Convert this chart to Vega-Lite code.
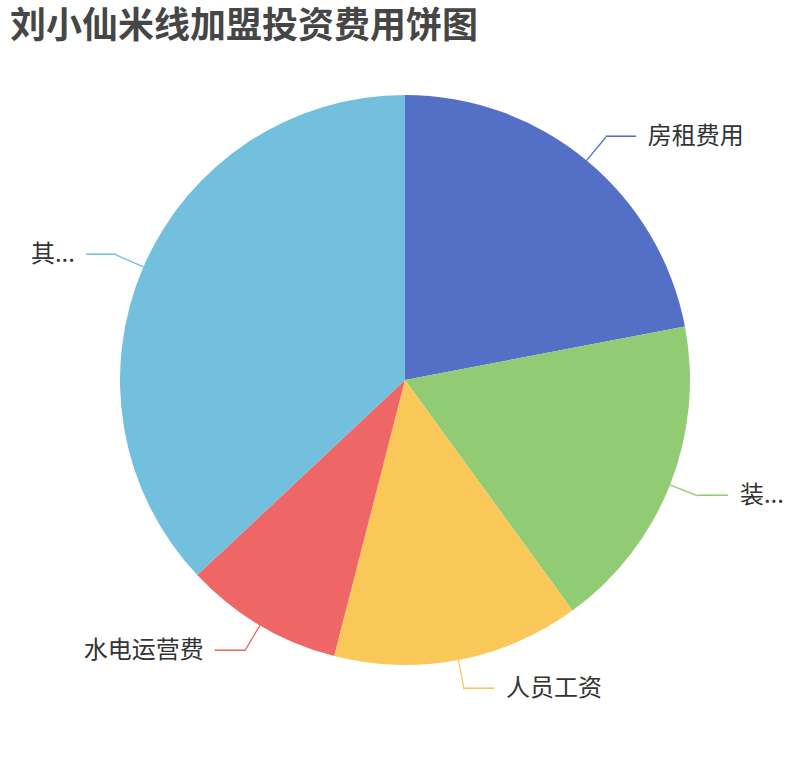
{
  "$schema": "https://vega.github.io/schema/vega-lite/v6.json",
  "width": 810,
  "height": 760,
  "padding": 0,
  "autosize": {"type": "none"},
  "background": "white",
  "title": {
    "text": "刘小仙米线加盟投资费用饼图",
    "anchor": "start",
    "frame": "group",
    "offset": -46,
    "dx": 10,
    "fontSize": 36,
    "font": "Noto Sans CJK SC",
    "fontWeight": "bold",
    "color": "#464646",
    "baseline": "top"
  },
  "data": {
    "values": [
      {"seq": 1, "name": "房租费用", "value": 22},
      {"seq": 2, "name": "装...", "value": 18},
      {"seq": 3, "name": "人员工资", "value": 14},
      {"seq": 4, "name": "水电运营费", "value": 9},
      {"seq": 5, "name": "其...", "value": 37}
    ]
  },
  "encoding": {
    "theta": {"field": "value", "type": "quantitative", "stack": true},
    "order": {"field": "seq", "type": "quantitative"},
    "color": {
      "field": "name",
      "type": "nominal",
      "sort": null,
      "legend": null,
      "scale": {
        "domain": ["房租费用", "装...", "人员工资", "水电运营费", "其..."],
        "range": ["#5470c6", "#91cc75", "#fac858", "#ee6666", "#73c0de"]
      }
    }
  },
  "layer": [
    {"mark": {"type": "arc", "outerRadius": 285}},
    {
      "mark": {"type": "arc", "radius": 315, "radius2": 285, "padAngle": 3.2, "filled": false, "strokeWidth": 1.3}
    },
    {
      "mark": {"type": "text", "radius": 315, "align": "left", "baseline": "middle", "font": "DejaVu Sans Mono", "fontSize": 16.6},
      "encoding": {
        "text": {"condition": {"test": "datum.name == '房租费用' || datum.name == '装...' || datum.name == '人员工资'", "value": "───"}, "value": ""}
      }
    },
    {
      "mark": {"type": "text", "radius": 315, "align": "right", "baseline": "middle", "font": "DejaVu Sans Mono", "fontSize": 16.6},
      "encoding": {
        "text": {"condition": {"test": "datum.name == '水电运营费' || datum.name == '其...'", "value": "───"}, "value": ""}
      }
    },
    {
      "mark": {"type": "text", "radius": 315, "align": "left", "baseline": "middle", "dx": 42, "font": "Noto Sans CJK SC", "fontSize": 24},
      "encoding": {
        "color": {"value": "#333333"},
        "text": {"condition": {"test": "datum.name == '房租费用' || datum.name == '装...' || datum.name == '人员工资'", "field": "name"}, "value": ""}
      }
    },
    {
      "mark": {"type": "text", "radius": 315, "align": "right", "baseline": "middle", "dx": -41, "font": "Noto Sans CJK SC", "fontSize": 24},
      "encoding": {
        "color": {"value": "#333333"},
        "text": {"condition": {"test": "datum.name == '水电运营费' || datum.name == '其...'", "field": "name"}, "value": ""}
      }
    }
  ]
}
